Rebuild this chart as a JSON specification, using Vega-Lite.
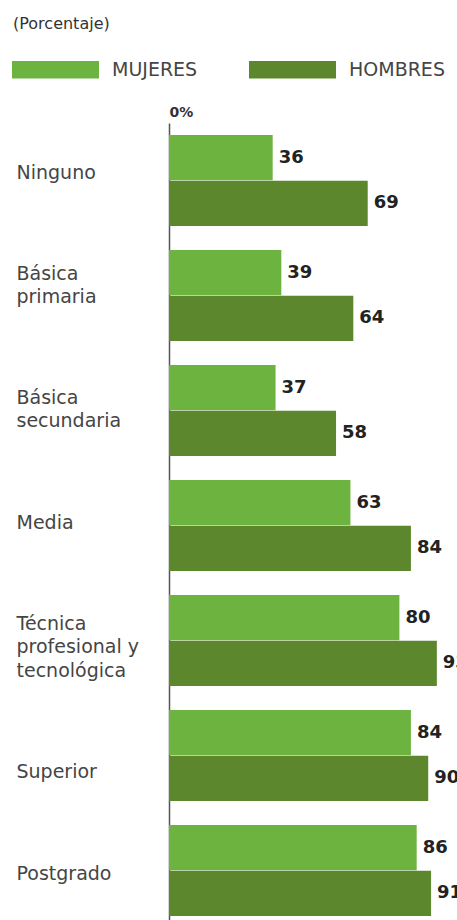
{
  "$schema": "https://vega.github.io/schema/vega-lite/v6.json",
  "autosize": {"type": "none"},
  "padding": {"left": 169, "top": 123, "right": 0, "bottom": 0},
  "width": 288,
  "height": 805,
  "background": "white",
  "config": {"view": {"stroke": null}},
  "title": {
    "text": "(Porcentaje)",
    "anchor": "start",
    "frame": "group",
    "orient": "top",
    "dx": -156,
    "dy": 6,
    "fontSize": 16,
    "fontWeight": "normal",
    "font": "DejaVu Sans",
    "color": "#333333",
    "offset": 0
  },
  "data": {
    "values": [
      {"nivel": "Ninguno", "sexo": "MUJERES", "valor": 36},
      {"nivel": "Ninguno", "sexo": "HOMBRES", "valor": 69},
      {"nivel": "Básica|primaria", "sexo": "MUJERES", "valor": 39},
      {"nivel": "Básica|primaria", "sexo": "HOMBRES", "valor": 64},
      {"nivel": "Básica|secundaria", "sexo": "MUJERES", "valor": 37},
      {"nivel": "Básica|secundaria", "sexo": "HOMBRES", "valor": 58},
      {"nivel": "Media", "sexo": "MUJERES", "valor": 63},
      {"nivel": "Media", "sexo": "HOMBRES", "valor": 84},
      {"nivel": "Técnica|profesional y|tecnológica", "sexo": "MUJERES", "valor": 80},
      {"nivel": "Técnica|profesional y|tecnológica", "sexo": "HOMBRES", "valor": 93},
      {"nivel": "Superior", "sexo": "MUJERES", "valor": 84},
      {"nivel": "Superior", "sexo": "HOMBRES", "valor": 90},
      {"nivel": "Postgrado", "sexo": "MUJERES", "valor": 86},
      {"nivel": "Postgrado", "sexo": "HOMBRES", "valor": 91}
    ]
  },
  "encoding": {
    "y": {
      "field": "nivel",
      "type": "nominal",
      "sort": null,
      "scale": {"paddingInner": 0.21, "paddingOuter": 0.105},
      "axis": {
        "title": null,
        "orient": "left",
        "labelExpr": "split(datum.label, '|')",
        "labelAlign": "left",
        "labelBaseline": "middle",
        "labelPadding": 153,
        "labelLineHeight": 23.5,
        "labelFont": "DejaVu Sans",
        "labelFontSize": 19,
        "labelColor": "#454545",
        "labelLimit": 200,
        "labelOffset": {
          "condition": [
            {"test": "datum.value == 'Ninguno'", "value": -8},
            {"test": "datum.value == 'Básica|primaria'", "value": -22},
            {"test": "datum.value == 'Básica|secundaria'", "value": -13},
            {"test": "datum.value == 'Media'", "value": -3},
            {"test": "datum.value == 'Superior'", "value": 16},
            {"test": "datum.value == 'Postgrado'", "value": 3}
          ],
          "value": -17
        },
        "ticks": false,
        "domain": true,
        "domainColor": "#555555",
        "domainWidth": 1.5,
        "grid": false
      }
    },
    "yOffset": {
      "field": "sexo",
      "type": "nominal",
      "sort": ["MUJERES", "HOMBRES"],
      "scale": {"paddingInner": 0.01, "paddingOuter": 0}
    }
  },
  "layer": [
    {
      "mark": {"type": "bar", "cornerRadius": 0},
      "encoding": {
        "x": {
          "field": "valor",
          "type": "quantitative",
          "scale": {"domain": [0, 100], "nice": false},
          "axis": {
            "orient": "top",
            "values": [0],
            "labelExpr": "'0%'",
            "title": null,
            "domain": false,
            "ticks": false,
            "grid": false,
            "labelAlign": "left",
            "labelBaseline": "bottom",
            "labelPadding": 4,
            "labelDx": -3,
            "labelFont": "DejaVu Sans",
            "labelFontSize": 14,
            "labelFontWeight": 600,
            "labelColor": "#333333"
          }
        },
        "color": {
          "field": "sexo",
          "type": "nominal",
          "sort": ["MUJERES", "HOMBRES"],
          "scale": {"domain": ["MUJERES", "HOMBRES"], "range": ["#6db33f", "#5c872c"]},
          "legend": {
            "title": null,
            "orient": "none",
            "direction": "horizontal",
            "legendX": -157,
            "legendY": -97,
            "padding": 0,
            "symbolType": "M-1,-0.2H1V0.2H-1Z",
            "symbolSize": 7569,
            "symbolStrokeWidth": 0,
            "symbolOpacity": 1,
            "labelOffset": 13,
            "labelFont": "DejaVu Sans",
            "labelFontSize": 19,
            "labelColor": "#454545",
            "columnPadding": 51
          }
        }
      }
    },
    {
      "mark": {
        "type": "text",
        "align": "left",
        "baseline": "middle",
        "dx": 6,
        "font": "DejaVu Sans",
        "fontSize": 18,
        "fontWeight": "bold",
        "color": "#222222"
      },
      "encoding": {
        "x": {"field": "valor", "type": "quantitative"},
        "text": {"field": "valor", "type": "quantitative"}
      }
    }
  ]
}
